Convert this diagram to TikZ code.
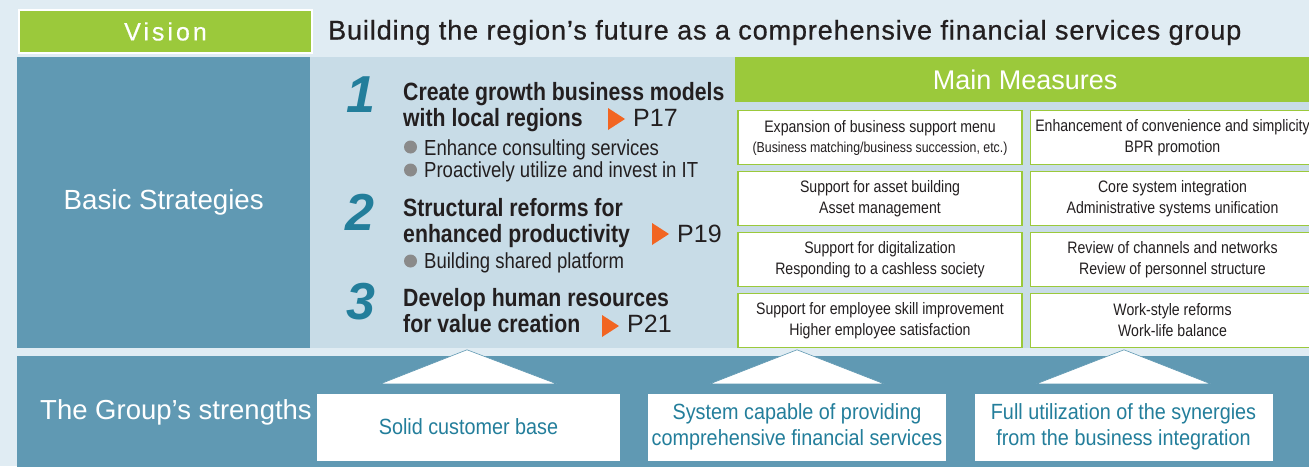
\documentclass[tikz,border=0pt]{standalone}
\usepackage{fontspec}
\setmainfont{Liberation Sans}
\newfontfamily\narrowfont[FakeStretch=0.85]{Liberation Sans}
\newfontfamily\boxfont[FakeStretch=0.9]{Liberation Sans}
\newfontfamily\spacedfont[LetterSpace=12, FakeBold=0.4]{Liberation Sans}
\newfontfamily\mediumfont[LetterSpace=3.3, FakeBold=0.7]{Liberation Sans}
\usetikzlibrary{positioning, calc}

\definecolor{bgblue}{HTML}{E0ECF3}
\definecolor{darkblue}{HTML}{6099B3}
\definecolor{paleblue}{HTML}{C8DCE7}
\definecolor{leafgreen}{HTML}{9BC93B}
\definecolor{tealtext}{HTML}{237E9B}
\definecolor{arroworange}{HTML}{F26522}
\definecolor{bulletgray}{HTML}{8A8A8A}
\definecolor{inktext}{HTML}{231F20}

% orange page pointer in front of a page number
\newcommand{\pagemarker}[1]{\fill[arroworange] (#1) -- ++(17,11) -- ++(-17,11) -- cycle;}

\begin{document}
\begin{tikzpicture}[
        x=1pt, y=-1pt,
        node distance=5.5pt and 7pt,
        band/.style={rectangle, inner sep=0pt, anchor=north west},
        heading/.style={anchor=base west, inner sep=0pt, text=inktext, font=\mediumfont\fontsize{27}{30}\selectfont},
        measure/.style={rectangle, draw=leafgreen, line width=1.5pt, fill=white, minimum width=284pt, minimum height=54pt, align=center, inner sep=0pt, text=inktext, font=\narrowfont\fontsize{16.6}{21}\selectfont},
        num/.style={anchor=base, inner sep=0pt, text=tealtext, font=\bfseries\itshape\fontsize{52}{52}\selectfont},
        title/.style={anchor=base west, inner sep=0pt, text=inktext, font=\narrowfont\bfseries\fontsize{25}{26}\selectfont},
        pageref/.style={anchor=base west, inner sep=0pt, text=inktext, font=\fontsize{25}{26}\selectfont},
        item/.style={anchor=base west, inner sep=0pt, text=inktext, font=\narrowfont\fontsize{21.8}{21}\selectfont},
        dot/.style={circle, fill=bulletgray, minimum size=13pt, inner sep=0pt},
        strength/.style={rectangle, fill=white, minimum width=298pt, minimum height=67pt, align=center, inner sep=0pt, text=tealtext, font=\boxfont\fontsize{22}{26}\selectfont},
        wedge/.style={fill=white, draw=darkblue, line width=0.6pt}
    ]
        \clip (0,0) rectangle (1309,466);
        \fill[bgblue] (0,0) rectangle (1309,466);

        % Vision row
        \node[band, fill=leafgreen, draw=white, line width=2pt, minimum width=293pt, minimum height=43pt, text=white, font=\spacedfont\fontsize{25}{25}\selectfont] (vision) at (18,9) {Vision};
        \node[heading] (goal) at (328,39.5) {Building the region’s future as a comprehensive financial services group};

        % Basic strategies
        \node[band, fill=darkblue, minimum width=293pt, minimum height=291pt, text=white, font=\fontsize{27.7}{28}\selectfont] (basic) at (17,57) {Basic Strategies};
        \node[band, fill=paleblue, minimum width=1000pt, minimum height=291pt] (panel) at (310,57) {};

        \node[num] (n1) at (361,112) {1};
        \node[title] (s1a) at (403,100.7) {Create growth business models};
        \node[title] (s1b) at (403,126.7) {with local regions};
        \pagemarker{608,108}
        \node[pageref] (p1) at (633,126.7) {P17};
        \node[dot] (d1) at (410.5,147) {};
        \node[item] (i1) at (424,155) {Enhance consulting services};
        \node[dot] (d2) at (410.5,170) {};
        \node[item] (i2) at (424,177.5) {Proactively utilize and invest in IT};

        \node[num] (n2) at (360,230) {2};
        \node[title] (s2a) at (403,216.7) {Structural reforms for};
        \node[title] (s2b) at (403,242.7) {enhanced productivity};
        \pagemarker{652,223}
        \node[pageref] (p2) at (677,242.7) {P19};
        \node[dot] (d3) at (410.5,261) {};
        \node[item] (i3) at (424,268.5) {Building shared platform};

        \node[num] (n3) at (361,319) {3};
        \node[title] (s3a) at (403,306.7) {Develop human resources};
        \node[title] (s3b) at (403,332.7) {for value creation};
        \pagemarker{602,315}
        \node[pageref] (p3) at (627,332.7) {P21};

        % Main measures
        \node[band, fill=leafgreen, minimum width=580pt, minimum height=45pt, text=white, font=\fontsize{27}{27}\selectfont] (header) at (735,57) {Main Measures};

        \node[measure] (m1) at (880,137.5) {Expansion of business support menu\\[-1pt]{\fontsize{14.5}{15}\selectfont (Business matching/business succession, etc.)}};
        \node[measure, below=of m1] (m2) {Support for asset building\\Asset management};
        \node[measure, below=of m2] (m3) {Support for digitalization\\Responding to a cashless society};
        \node[measure, below=of m3] (m4) {Support for employee skill improvement\\Higher employee satisfaction};

        \node[measure, right=of m1] (r1) {Enhancement of convenience and simplicity\\BPR promotion};
        \node[measure, right=of m2] (r2) {Core system integration\\Administrative systems unification};
        \node[measure, right=of m3] (r3) {Review of channels and networks\\Review of personnel structure};
        \node[measure, right=of m4] (r4) {Work-style reforms\\Work-life balance};

        % The Group's strengths
        \node[band, fill=darkblue, minimum width=1300pt, minimum height=115pt] (base) at (17,356) {};
        \node[anchor=west, inner sep=0pt, text=white, font=\fontsize{27.5}{28}\selectfont] (group) at (40,412) {The Group’s strengths};

        \node[strength, minimum width=303pt] (b1) at (468.5,427) {Solid customer base};
        \node[strength] (b2) at (797,427) {System capable of providing\\comprehensive financial services};
        \node[strength] (b3) at (1123.5,427) {Full utilization of the synergies\\from the business integration};

        % Wedges pointing up into the measures
        \filldraw[wedge] ($(b1.north)+(-88,-9.5)$) -- ($(b1.north)+(-1.5,-43.5)$) -- ($(b1.north)+(88,-9.5)$) -- cycle;
        \filldraw[wedge] ($(b2.north)+(-87,-9.5)$) -- ($(b2.north)+(0,-43.5)$) -- ($(b2.north)+(87,-9.5)$) -- cycle;
        \filldraw[wedge] ($(b3.north)+(-87,-9.5)$) -- ($(b3.north)+(0.5,-43.5)$) -- ($(b3.north)+(87,-9.5)$) -- cycle;
    \end{tikzpicture}
\end{document}
